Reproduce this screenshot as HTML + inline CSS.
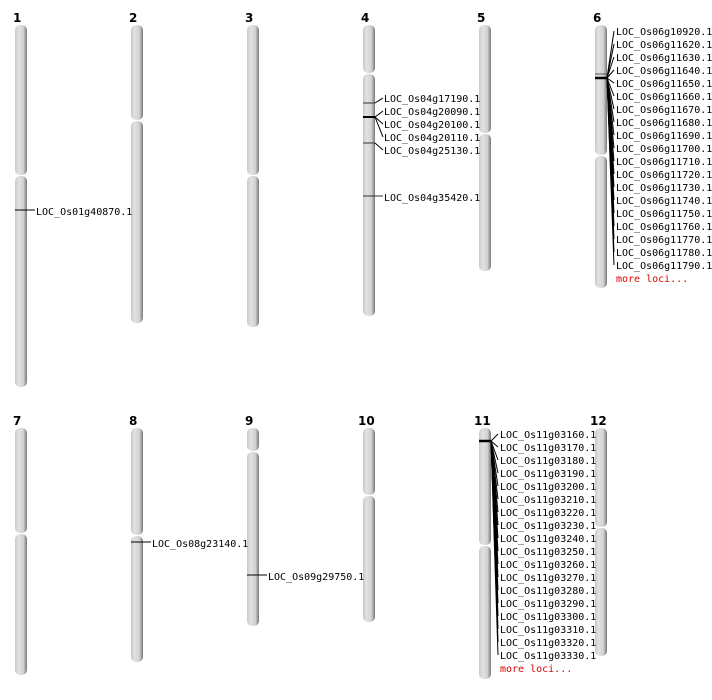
<!DOCTYPE html>
<html><head><meta charset="utf-8"><style>
html,body{margin:0;padding:0;background:#fff;}
svg{display:block}
.n{font-family:"DejaVu Sans","Liberation Sans",sans-serif;font-weight:bold;font-size:12px;fill:#000}
.l{font-family:"DejaVu Sans Mono","Liberation Mono",monospace;font-size:10px;fill:#000}
.m{font-family:"DejaVu Sans Mono","Liberation Mono",monospace;font-size:10px;fill:#d00}
</style></head><body>
<svg width="712" height="700" xmlns="http://www.w3.org/2000/svg">
<defs>
<linearGradient id="g" x1="0" x2="1" y1="0" y2="0">
<stop offset="0" stop-color="#c8c8c8"/><stop offset="0.3" stop-color="#e2e2e2"/><stop offset="0.7" stop-color="#d2d2d2"/><stop offset="1" stop-color="#777"/>
</linearGradient>
</defs>
<g fill="url(#g)">
<!-- row 1 -->
<rect x="15" y="25" width="12" height="150" rx="5"/><rect x="15" y="176" width="12" height="211" rx="5"/>
<rect x="131" y="25" width="12" height="95" rx="5"/><rect x="131" y="121" width="12" height="202" rx="5"/>
<rect x="247" y="25" width="12" height="150" rx="5"/><rect x="247" y="176" width="12" height="151" rx="5"/>
<rect x="363" y="25" width="12" height="48" rx="5"/><rect x="363" y="74" width="12" height="242" rx="5"/>
<rect x="479" y="25" width="12" height="108" rx="5"/><rect x="479" y="134" width="12" height="137" rx="5"/>
<rect x="595" y="25" width="12" height="130" rx="5"/><rect x="595" y="156" width="12" height="132" rx="5"/>
<!-- row 2 -->
<rect x="15" y="428" width="12" height="105" rx="5"/><rect x="15" y="534" width="12" height="141" rx="5"/>
<rect x="131" y="428" width="12" height="107" rx="5"/><rect x="131" y="536" width="12" height="126" rx="5"/>
<rect x="247" y="428" width="12" height="23" rx="5"/><rect x="247" y="452" width="12" height="174" rx="5"/>
<rect x="363" y="428" width="12" height="67" rx="5"/><rect x="363" y="496" width="12" height="126" rx="5"/>
<rect x="479" y="428" width="12" height="117" rx="5"/><rect x="479" y="546" width="12" height="133" rx="5"/>
<rect x="595" y="428" width="12" height="99" rx="5"/><rect x="595" y="528" width="12" height="128" rx="5"/>
</g>
<g class="n">
<text x="13" y="22">1</text><text x="129" y="22">2</text><text x="245" y="22">3</text><text x="361" y="22">4</text><text x="477" y="22">5</text><text x="593" y="22">6</text>
<text x="13" y="425">7</text><text x="129" y="425">8</text><text x="245" y="425">9</text><text x="358" y="425">10</text><text x="474" y="425">11</text><text x="590" y="425">12</text>
</g>
<g stroke="#000" stroke-width="1" fill="none">
<!-- chr1 -->
<line x1="15" y1="210" x2="35" y2="210"/>
<!-- chr4 -->
<line x1="363" y1="103" x2="375" y2="103" stroke="#333"/><line x1="375" y1="103" x2="383" y2="98"/>
<line x1="363" y1="117" x2="375" y2="117" stroke-width="2"/>
<line x1="375" y1="117" x2="383" y2="111"/><line x1="375" y1="117" x2="383" y2="124"/><line x1="375" y1="117" x2="383" y2="137"/>
<line x1="363" y1="143" x2="375" y2="143" stroke="#333"/><line x1="375" y1="143" x2="383" y2="150"/>
<line x1="363" y1="196" x2="383" y2="196" stroke="#333"/>
<!-- chr6 -->
<line x1="595" y1="74" x2="607" y2="74" stroke="#555"/>
<line x1="595" y1="78" x2="607" y2="78" stroke-width="2.5"/>
<line x1="607" y1="78" x2="614" y2="31"/><line x1="607" y1="78" x2="614" y2="44"/><line x1="607" y1="78" x2="614" y2="57"/><line x1="607" y1="78" x2="614" y2="70"/><line x1="607" y1="78" x2="614" y2="83"/><line x1="607" y1="78" x2="614" y2="96"/><line x1="607" y1="78" x2="614" y2="109"/><line x1="607" y1="78" x2="614" y2="122"/><line x1="607" y1="78" x2="614" y2="135"/><line x1="607" y1="78" x2="614" y2="148"/><line x1="607" y1="78" x2="614" y2="161"/><line x1="607" y1="78" x2="614" y2="174"/><line x1="607" y1="78" x2="614" y2="187"/><line x1="607" y1="78" x2="614" y2="200"/><line x1="607" y1="78" x2="614" y2="213"/><line x1="607" y1="78" x2="614" y2="226"/><line x1="607" y1="78" x2="614" y2="239"/><line x1="607" y1="78" x2="614" y2="252"/><line x1="607" y1="78" x2="614" y2="265"/>
<!-- chr8 -->
<line x1="131" y1="542" x2="151" y2="542"/>
<!-- chr9 -->
<line x1="247" y1="575" x2="267" y2="575"/>
<!-- chr11 -->
<line x1="479" y1="441" x2="491" y2="441" stroke-width="2.5"/>
<line x1="491" y1="441" x2="498" y2="434"/><line x1="491" y1="441" x2="498" y2="447"/><line x1="491" y1="441" x2="498" y2="460"/><line x1="491" y1="441" x2="498" y2="473"/><line x1="491" y1="441" x2="498" y2="486"/><line x1="491" y1="441" x2="498" y2="499"/><line x1="491" y1="441" x2="498" y2="512"/><line x1="491" y1="441" x2="498" y2="525"/><line x1="491" y1="441" x2="498" y2="538"/><line x1="491" y1="441" x2="498" y2="551"/><line x1="491" y1="441" x2="498" y2="564"/><line x1="491" y1="441" x2="498" y2="577"/><line x1="491" y1="441" x2="498" y2="590"/><line x1="491" y1="441" x2="498" y2="603"/><line x1="491" y1="441" x2="498" y2="616"/><line x1="491" y1="441" x2="498" y2="629"/><line x1="491" y1="441" x2="498" y2="642"/><line x1="491" y1="441" x2="498" y2="655"/>
</g>
<g class="l">
<text x="36" y="215">LOC_Os01g40870.1</text>
<text x="384" y="102">LOC_Os04g17190.1</text>
<text x="384" y="115">LOC_Os04g20090.1</text>
<text x="384" y="128">LOC_Os04g20100.1</text>
<text x="384" y="141">LOC_Os04g20110.1</text>
<text x="384" y="154">LOC_Os04g25130.1</text>
<text x="384" y="201">LOC_Os04g35420.1</text>
<text x="616" y="35">LOC_Os06g10920.1</text>
<text x="616" y="48">LOC_Os06g11620.1</text>
<text x="616" y="61">LOC_Os06g11630.1</text>
<text x="616" y="74">LOC_Os06g11640.1</text>
<text x="616" y="87">LOC_Os06g11650.1</text>
<text x="616" y="100">LOC_Os06g11660.1</text>
<text x="616" y="113">LOC_Os06g11670.1</text>
<text x="616" y="126">LOC_Os06g11680.1</text>
<text x="616" y="139">LOC_Os06g11690.1</text>
<text x="616" y="152">LOC_Os06g11700.1</text>
<text x="616" y="165">LOC_Os06g11710.1</text>
<text x="616" y="178">LOC_Os06g11720.1</text>
<text x="616" y="191">LOC_Os06g11730.1</text>
<text x="616" y="204">LOC_Os06g11740.1</text>
<text x="616" y="217">LOC_Os06g11750.1</text>
<text x="616" y="230">LOC_Os06g11760.1</text>
<text x="616" y="243">LOC_Os06g11770.1</text>
<text x="616" y="256">LOC_Os06g11780.1</text>
<text x="616" y="269">LOC_Os06g11790.1</text>
<text x="152" y="547">LOC_Os08g23140.1</text>
<text x="268" y="580">LOC_Os09g29750.1</text>
<text x="500" y="438">LOC_Os11g03160.1</text>
<text x="500" y="451">LOC_Os11g03170.1</text>
<text x="500" y="464">LOC_Os11g03180.1</text>
<text x="500" y="477">LOC_Os11g03190.1</text>
<text x="500" y="490">LOC_Os11g03200.1</text>
<text x="500" y="503">LOC_Os11g03210.1</text>
<text x="500" y="516">LOC_Os11g03220.1</text>
<text x="500" y="529">LOC_Os11g03230.1</text>
<text x="500" y="542">LOC_Os11g03240.1</text>
<text x="500" y="555">LOC_Os11g03250.1</text>
<text x="500" y="568">LOC_Os11g03260.1</text>
<text x="500" y="581">LOC_Os11g03270.1</text>
<text x="500" y="594">LOC_Os11g03280.1</text>
<text x="500" y="607">LOC_Os11g03290.1</text>
<text x="500" y="620">LOC_Os11g03300.1</text>
<text x="500" y="633">LOC_Os11g03310.1</text>
<text x="500" y="646">LOC_Os11g03320.1</text>
<text x="500" y="659">LOC_Os11g03330.1</text>
</g>
<text class="m" x="616" y="282">more loci...</text>
<text class="m" x="500" y="672">more loci...</text>
</svg>
</body></html>
